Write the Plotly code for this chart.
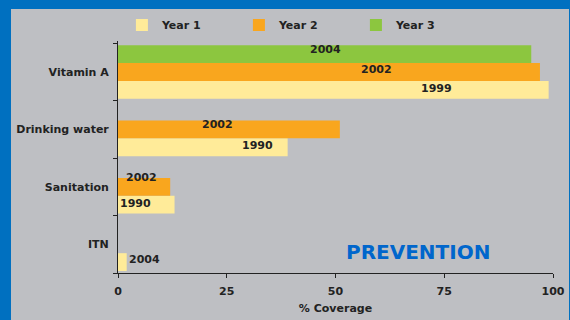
"""Prevention coverage chart (horizontal grouped bars)."""
import plotly.graph_objects as go

COLORS = {"year1": "#FFEB99", "year2": "#F9A61E", "year3": "#8CC63F",
          "bg": "#BEBFC3", "frame": "#0070C0", "title": "#0066CC", "text": "#222222"}

categories = ["ITN", "Sanitation", "Drinking water", "Vitamin A"]
year1 = [2, 13, 39, 99]
year2 = [None, 12, 51, 97]
year3 = [None, None, None, 95]
year1_labels = ["2004", "1990", "1990", "1999"]
year2_labels = ["", "2002", "2002", "2002"]
year3_labels = ["", "", "", "2004"]
x_ticks = [0, 25, 50, 75, 100]

# where the year labels sit (x in % units, y shift in px from the band centre)
label_x = {"year1": [6.1, 4.0, 32.1, 73.2], "year2": [None, 5.4, 22.9, 59.4], "year3": [None, None, None, 47.7]}
label_dy = {"year1": [-15, -17, -16.5, -16.5], "year2": [None, 9, 4.5, 2.5], "year3": [None, None, None, 22.5]}

FONT = "DejaVu Sans"

fig = go.Figure()
series = [("Year 1", year1, "year1", year1_labels),
          ("Year 2", year2, "year2", year2_labels),
          ("Year 3", year3, "year3", year3_labels)]
for name, vals, key, labels in series:
    fig.add_trace(go.Bar(y=categories, x=vals, orientation="h", name=name,
        marker=dict(color=COLORS[key], line=dict(width=0)), hoverinfo="x+name"))
    for cat, lab, lx, dy in zip(categories, labels, label_x[key], label_dy[key]):
        if lab:
            fig.add_annotation(x=lx, y=cat, xref="x", yref="y", text=lab, showarrow=False,
                yshift=dy, font=dict(family=FONT, size=11, color=COLORS["text"], weight="bold"))

fig.add_annotation(x=0.69, y=0.09, xref="paper", yref="paper", xanchor="center", yanchor="middle",
    text="PREVENTION", showarrow=False,
    font=dict(family=FONT, size=20, color=COLORS["title"], weight="bold"))

# blue frame on left, top and right
for x0, x1, y0, y1 in [(-1, -0.246, -1, 2), (-1, 2, 1.138, 2), (1.0368, 2, -1, 2)]:
    fig.add_shape(type="rect", xref="paper", yref="paper", x0=x0, x1=x1, y0=y0, y1=y1,
        fillcolor=COLORS["frame"], line=dict(width=0), layer="below")

fig.update_layout(width=570, height=320, margin=dict(l=118, r=17, t=41, b=47, autoexpand=False),
    paper_bgcolor=COLORS["bg"], plot_bgcolor=COLORS["bg"],
    barmode="group", bargap=0.07, bargroupgap=0,
    font=dict(family=FONT, size=11, color=COLORS["text"]),
    legend=dict(orientation="h", x=0.009, xanchor="left", y=1.069, yanchor="middle",
        entrywidth=72, entrywidthmode="pixels", traceorder="normal",
        font=dict(family=FONT, size=11, color=COLORS["text"], weight="bold"),
        bgcolor="rgba(0,0,0,0)"),
    showlegend=True)
fig.update_xaxes(range=[0, 100], tickvals=x_ticks, showgrid=False, zeroline=False,
    showline=True, linecolor="#222222", linewidth=1, ticks="outside", ticklen=4,
    tickcolor="#222222", ticklabelstandoff=4, automargin=False,
    tickfont=dict(family=FONT, size=11, color=COLORS["text"], weight="bold"),
    title=dict(text="% Coverage", standoff=7,
        font=dict(family=FONT, size=11, color=COLORS["text"], weight="bold")))
fig.update_yaxes(type="category", categoryorder="array", categoryarray=categories,
    showgrid=False, zeroline=False, showline=True, linecolor="#222222", linewidth=1,
    ticks="outside", ticklen=4, tickcolor="#222222", tickson="boundaries", ticklabelstandoff=6,
    automargin=False,
    tickfont=dict(family=FONT, size=11, color=COLORS["text"], weight="bold"))

fig.write_html("out.html", config={"displayModeBar": False},
               post_script="document.body.style.margin='0';")
